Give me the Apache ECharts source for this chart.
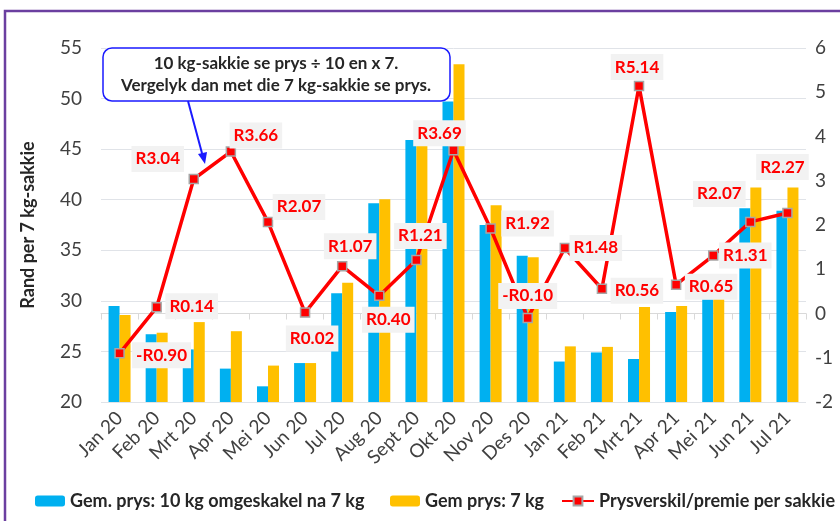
<!DOCTYPE html>
<html>
<head>
<meta charset="utf-8">
<script src="https://cdn.jsdelivr.net/npm/echarts@6/dist/echarts.min.js"></script>
<style>
  html, body { margin: 0; padding: 0; background: #fff; }
  #chart { width: 840px; height: 521px; }
</style>
</head>
<body>
<div id="chart"></div>
<script>
const categories = ['Jan 20', 'Feb 20', 'Mrt 20', 'Apr 20', 'Mei 20', 'Jun 20', 'Jul 20', 'Aug 20', 'Sept 20', 'Okt 20',
    'Nov 20', 'Des 20', 'Jan 21', 'Feb 21', 'Mrt 21', 'Apr 21', 'Mei 21', 'Jun 21', 'Jul 21'];
// Gem. prys: 10 kg omgeskakel na 7 kg
const price10to7 = [29.5, 26.7, 25.2, 23.3, 21.55, 23.85, 30.75, 39.65, 45.9, 49.7,
    37.5, 34.45, 24.0, 24.9, 24.25, 28.9, 30.15, 39.15, 38.9];
// Gem prys: 7 kg
const price7 = [28.6, 26.85, 27.9, 27.0, 23.6, 23.85, 31.8, 40.05, 47.1, 53.4,
    39.45, 34.3, 25.5, 25.45, 29.4, 29.5, 30.2, 41.2, 41.2];
// Prysverskil/premie per sakkie
const premium = [-0.90, 0.14, 3.04, 3.66, 2.07, 0.02, 1.07, 0.40, 1.21, 3.69,
    1.92, -0.10, 1.48, 0.56, 5.14, 0.65, 1.31, 2.07, 2.27];
const leftTicks = [20, 55, 5];
const rightTicks = [-2, 6, 1];

const FONT = 'Lato';

// where each premium label sits relative to its point (label centre offset)
const labelOffsets = [
    [42, 2], [35, -1], [-36, -20], [25, -16], [31, -15], [7, 26], [8, -20], [9, 24], [4, -24], [-14, -17],
    [37, -5], [0, -22], [31, 0], [35, 2], [-2, -19], [35, 2], [32, 0], [-31, -28], [-5, -46]
];

function rand(v) {
    return (v < 0 ? '-R' : 'R') + Math.abs(v).toFixed(2);
}

const lineData = premium.map(function (v, i) {
    return {
        value: v,
        label: { offset: labelOffsets[i] }
    };
});

const chart = echarts.init(document.getElementById('chart'), null, { renderer: 'canvas' });

const legendText = { fontFamily: FONT, fontSize: 18, fontWeight: 'bold', color: '#262626' };

const option = {
    animation: false,
    textStyle: { fontFamily: FONT },
    grid: { left: 101, right: 34, top: 48, bottom: 119 },
    legend: [
        {
            data: ['Gem. prys: 10 kg omgeskakel na 7 kg'],
            left: 30, top: 487, itemWidth: 30, itemHeight: 11, itemGap: 4,
            textStyle: legendText
        },
        {
            data: ['Gem prys: 7 kg'],
            left: 385, top: 487, itemWidth: 30, itemHeight: 11,
            textStyle: legendText
        },
        {
            data: ['Prysverskil/premie per sakkie'],
            left: 556, top: 487, itemWidth: 32, itemHeight: 11,
            textStyle: legendText
        }
    ],
    xAxis: {
        type: 'category',
        data: categories,
        axisLine: { lineStyle: { color: '#d9d9d9', width: 1 } },
        axisTick: { show: true, alignWithLabel: false, length: 6, lineStyle: { color: '#d9d9d9' } },
        axisLabel: { rotate: 45, interval: 0, fontSize: 19, color: '#404040', fontFamily: FONT, margin: 13 }
    },
    yAxis: [
        {
            type: 'value',
            min: leftTicks[0], max: leftTicks[1], interval: leftTicks[2],
            name: 'Rand per 7 kg-sakkie',
            nameLocation: 'middle',
            nameGap: 64,
            nameTextStyle: { fontFamily: FONT, fontSize: 18, fontWeight: 'bold', color: '#262626' },
            axisLine: { show: false },
            axisTick: { show: false },
            axisLabel: { fontSize: 19, color: '#404040', fontFamily: FONT, margin: 19 },
            splitLine: { lineStyle: { color: '#e0e3e8', width: 1 } }
        },
        {
            type: 'value',
            min: rightTicks[0], max: rightTicks[1], interval: rightTicks[2],
            position: 'right',
            axisLine: { show: false },
            axisTick: { show: false },
            axisLabel: { fontSize: 19, color: '#404040', fontFamily: FONT, margin: 9 },
            splitLine: { show: false }
        }
    ],
    series: [
        {
            name: 'Gem. prys: 10 kg omgeskakel na 7 kg',
            type: 'bar',
            data: price10to7,
            barWidth: 11,
            barGap: '0%',
            itemStyle: { color: '#00b0f0' },
            z: 2
        },
        {
            name: 'Gem prys: 7 kg',
            type: 'bar',
            data: price7,
            barWidth: 11,
            barGap: '0%',
            itemStyle: { color: '#ffc000' },
            z: 2
        },
        {
            name: 'Prysverskil/premie per sakkie',
            type: 'line',
            yAxisIndex: 1,
            data: lineData,
            symbol: 'rect',
            symbolSize: 9,
            lineStyle: { color: '#ff0000', width: 3.5 },
            itemStyle: { color: '#ff0000', borderColor: '#a6a6a6', borderWidth: 1.5 },
            label: {
                show: true,
                position: 'inside',
                align: 'center',
                verticalAlign: 'middle',
                formatter: function (p) { return rand(p.value); },
                color: '#ff0000',
                fontFamily: FONT,
                fontSize: 17,
                fontWeight: 'bold',
                backgroundColor: '#f2f2f2',
                padding: [5, 4, 4, 4]
            },
            z: 5
        }
    ],
    graphic: [
        // outer frame
        {
            type: 'rect',
            shape: { x: 5, y: 11, width: 900, height: 600 },
            style: { fill: 'none', stroke: '#6b3fa0', lineWidth: 2.5 },
            silent: true
        },
        // note box
        {
            type: 'rect',
            shape: { x: 103, y: 48, width: 347, height: 53, r: 9 },
            style: { fill: '#ffffff', stroke: '#1a1aff', lineWidth: 1.5 },
            z: 100
        },
        {
            type: 'text',
            x: 276, y: 75,
            style: {
                text: '10 kg-sakkie se prys ÷ 10 en x 7.\nVergelyk dan met die 7 kg-sakkie se prys.',
                fill: '#262626',
                font: 'bold 17px ' + FONT,
                align: 'center',
                verticalAlign: 'middle',
                lineHeight: 22
            },
            z: 101
        },
        // arrow
        {
            type: 'line',
            shape: { x1: 188, y1: 101, x2: 203, y2: 157 },
            style: { stroke: '#1a1aff', lineWidth: 2 },
            z: 100
        },
        {
            type: 'polygon',
            shape: { points: [[205, 164], [198, 154], [207, 152]] },
            style: { fill: '#1a1aff' },
            z: 100
        }
    ]
};
chart.setOption(option);
</script>
</body>
</html>
